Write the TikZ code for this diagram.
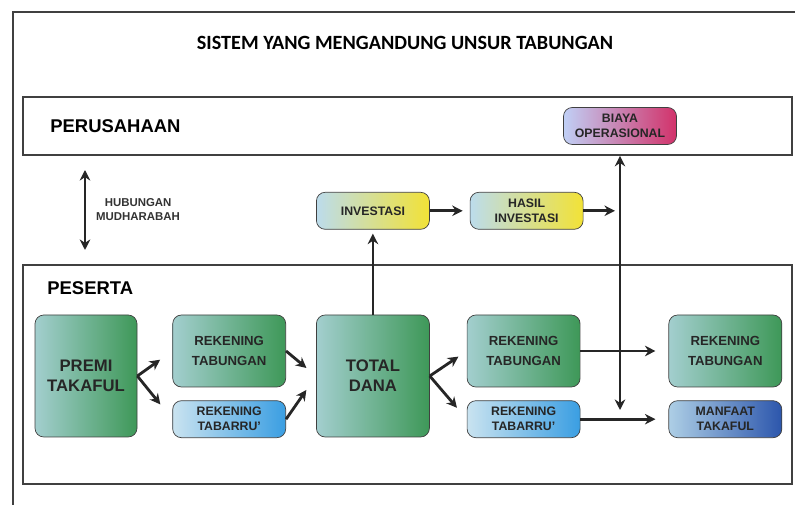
\documentclass[tikz,border=0pt]{standalone}
\usepackage{fontspec}
\setmainfont{Liberation Sans}
\newfontfamily\judulfont{Carlito}
\usetikzlibrary{positioning,arrows.meta}

\definecolor{birumuda}{HTML}{BCDCEC}
\definecolor{hijau}{HTML}{3E9858}
\definecolor{biru}{HTML}{3A9EE2}
\definecolor{birutua}{HTML}{2C56AC}
\definecolor{kuning}{HTML}{F2E236}
\definecolor{merah}{HTML}{D2326A}

\begin{document}
\begin{tikzpicture}[font=\bfseries,
	kotak/.style={draw=black!75, thin, rounded corners=5pt, minimum width=2.26cm, align=center, text=black!85, font=\fontsize{7}{8.5}\selectfont\bfseries},
	kecil/.style={kotak, minimum height=0.74cm},
	tinggi/.style={kotak, minimum height=1.44cm, font=\fontsize{7.5}{11}\selectfont\bfseries},
	besar/.style={kotak, minimum height=2.44cm, font=\fontsize{9.5}{11.5}\selectfont\bfseries},
	hijau/.style={left color=birumuda!80!hijau, middle color=hijau!80, right color=hijau},
	biru/.style={left color=birumuda!80, right color=biru},
	birutua/.style={left color=birumuda!90!birutua, right color=birutua},
	kuning/.style={left color=birumuda, middle color=kuning!75!birumuda, right color=kuning},
	merah/.style={left color=birumuda!80!blue!60, right color=merah},
	bingkai/.style={draw=black!75, line width=1pt},
	panah/.style={-{Stealth[length=6pt,width=6pt]}, line width=1.6pt, black!85},
	dwipanah/.style={{Stealth[length=6pt,width=6pt]}-{Stealth[length=6pt,width=6pt]}, line width=1.6pt, black!85}]
	\useasboundingbox (0,0) rectangle (15.9,10.1);
	% bingkai luar dan judul
	\draw[bingkai] (0.26,0) -- (0.26,9.86) -- (15.9,9.86);
	\node[font=\judulfont\fontsize{11.5}{13}\selectfont\bfseries] (judul) at (8.1,9.24) {SISTEM YANG MENGANDUNG UNSUR TABUNGAN};
	% perusahaan
	\node[bingkai, minimum width=15.38cm, minimum height=1.16cm] (perusahaan) at (8.15,7.58) {};
	\node[right=0.44cm of perusahaan.west, font=\fontsize{10.5}{12}\selectfont\bfseries] {PERUSAHAAN};
	\node[kecil, merah] (biaya) at (12.4,7.58) {BIAYA\\OPERASIONAL};
	% peserta
	\node[bingkai, minimum width=15.38cm, minimum height=4.38cm] (peserta) at (8.15,2.61) {};
	\node[below right=0.22cm and 0.38cm of peserta.north west, anchor=north west, font=\fontsize{10.5}{12}\selectfont\bfseries] {PESERTA};
	\node[besar, hijau, minimum width=2.04cm] (premi) at (1.72,2.58) {PREMI\\TAKAFUL};
	\node[tinggi, hijau, right=0.7cm of premi.north east, anchor=north west] (tabungan1) {REKENING\\TABUNGAN};
	\node[kecil, biru, below=0.26cm of tabungan1] (tabarru1) {REKENING\\TABARRU'};
	\node[besar, hijau, right=0.6cm of tabungan1.north east, anchor=north west] (total) {TOTAL\\DANA};
	\node[tinggi, hijau, right=0.74cm of total.north east, anchor=north west] (tabungan2) {REKENING\\TABUNGAN};
	\node[kecil, biru, below=0.26cm of tabungan2] (tabarru2) {REKENING\\TABARRU'};
	\node[tinggi, hijau, right=1.76cm of tabungan2] (tabungan3) {REKENING\\TABUNGAN};
	\node[kecil, birutua, below=0.26cm of tabungan3] (manfaat) {MANFAAT\\TAKAFUL};
	% investasi
	\node[kecil, kuning, above=1.7cm of total] (investasi) {INVESTASI};
	\node[kecil, kuning, right=0.8cm of investasi] (hasil) {HASIL\\INVESTASI};
	% hubungan mudharabah
	\coordinate (hubatas) at (1.7,6.7);
	\coordinate (hubbawah) at (1.7,5.1);
	\coordinate (hubtengah) at (1.7,5.9);
	\draw[dwipanah, line width=1.2pt] (hubatas) -- (hubbawah);
	\node[right=0.1cm of hubtengah, align=center, font=\fontsize{6.5}{8}\selectfont\bfseries, text=black!80] (hub) {HUBUNGAN\\MUDHARABAH};
	% aliran dana
	\draw[panah, shorten >=0.3cm] (premi.east) -- (tabungan1.west);
	\draw[panah, shorten >=0.38cm] (premi.east) -- (tabarru1.west);
	\draw[panah, shorten >=0.25cm] (tabungan1.east) -- (total.west);
	\draw[panah, shorten >=0.34cm] (tabarru1.east) -- (total.west);
	\draw[panah, shorten >=0.2cm] (total.east) -- (tabungan2.west);
	\draw[panah, shorten >=0.3cm] (total.east) -- (tabarru2.west);
	\draw[panah, shorten >=0.08cm] (total.north) -- (investasi.south);
	\draw[panah, shorten >=0.14cm] (investasi.east) -- (hasil.west);
	\draw[panah, shorten >=0.1cm] (hasil.east) -- (hasil.east -| biaya.south);
	\coordinate (vbawah) at (12.4,1.9);
	\draw[dwipanah] (biaya.south |- perusahaan.south) -- (vbawah);
	\draw[panah, shorten >=0.26cm] (tabungan2.east) -- (tabungan3.west);
	\draw[panah, shorten >=0.26cm] (tabarru2.east) -- (manfaat.west);
\end{tikzpicture}
\end{document}
